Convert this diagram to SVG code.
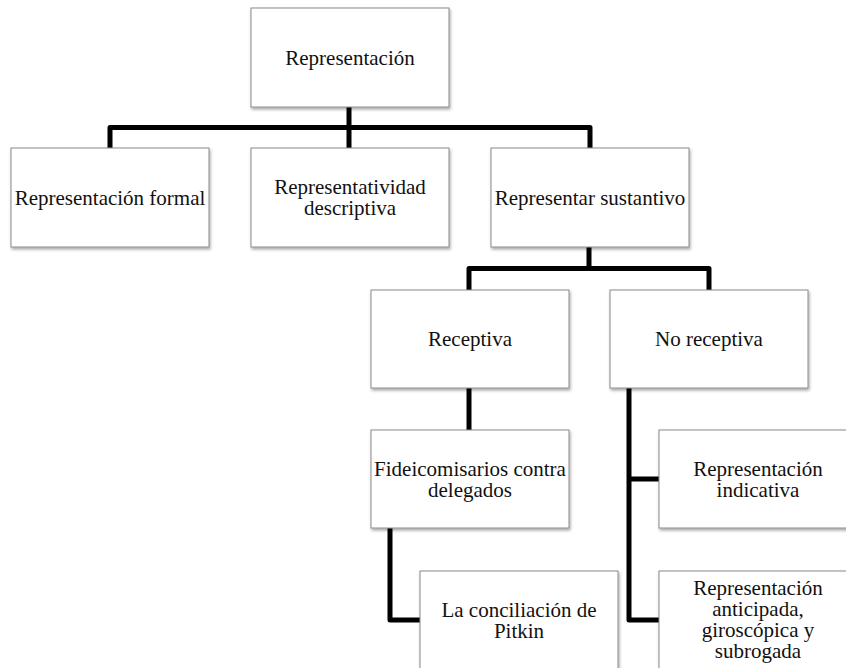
<svg xmlns="http://www.w3.org/2000/svg" width="846" height="668" viewBox="0 0 846 668">
<defs>
<filter id="sh" x="-10%" y="-10%" width="125%" height="130%">
<feDropShadow dx="1" dy="2" stdDeviation="1.5" flood-color="#000" flood-opacity="0.35"/>
</filter>
<style>
.box{fill:#fff;stroke:#8a8a8a;stroke-width:1;filter:url(#sh)}
.t{font-family:"Liberation Serif","Times New Roman",serif;font-size:21px;fill:#111;text-anchor:middle}
.c{fill:none;stroke:#000;stroke-width:5;stroke-linejoin:round}
</style>
</defs>
<rect width="846" height="668" fill="#fff"/>
<g id="connectors">
<path class="c" d="M349,107 V148 M110,148 V127.5 H590 V148"/>
<path class="c" d="M589,247 V268.5 M469,290 V268.5 H709 V290"/>
<path class="c" d="M469,388 V430"/>
<path class="c" d="M390,528 V620 H420"/>
<path class="c" d="M629,388 V620 H659 M629,479 H659"/>
</g>
<g id="n-root"><rect class="box" x="251" y="8" width="198" height="99"/><text class="t" x="350" y="65">Representación</text></g>
<g id="n-formal"><rect class="box" x="11" y="148" width="198" height="99"/><text class="t" x="110" y="205">Representación formal</text></g>
<g id="n-descriptiva"><rect class="box" x="251" y="148" width="198" height="99"/><text class="t" x="350" y="194">Representatividad</text><text class="t" x="350" y="215">descriptiva</text></g>
<g id="n-sustantivo"><rect class="box" x="491" y="148" width="198" height="99"/><text class="t" x="590" y="205">Representar sustantivo</text></g>
<g id="n-receptiva"><rect class="box" x="371" y="290" width="198" height="98"/><text class="t" x="470" y="346">Receptiva</text></g>
<g id="n-noreceptiva"><rect class="box" x="610" y="290" width="198" height="98"/><text class="t" x="709" y="346">No receptiva</text></g>
<g id="n-fideicomisarios"><rect class="box" x="371" y="430" width="198" height="98"/><text class="t" x="470" y="476">Fideicomisarios contra</text><text class="t" x="470" y="497">delegados</text></g>
<g id="n-indicativa"><rect class="box" x="659" y="430" width="198" height="98"/><text class="t" x="758" y="476">Representación</text><text class="t" x="758" y="497">indicativa</text></g>
<g id="n-pitkin"><rect class="box" x="420" y="571" width="198" height="99"/><text class="t" x="519" y="617">La conciliación de</text><text class="t" x="519" y="638">Pitkin</text></g>
<g id="n-anticipada"><rect class="box" x="659" y="571" width="198" height="99"/><text class="t" x="758" y="595">Representación</text><text class="t" x="758" y="616">anticipada,</text><text class="t" x="758" y="637">giroscópica y</text><text class="t" x="758" y="658">subrogada</text></g>
</svg>
